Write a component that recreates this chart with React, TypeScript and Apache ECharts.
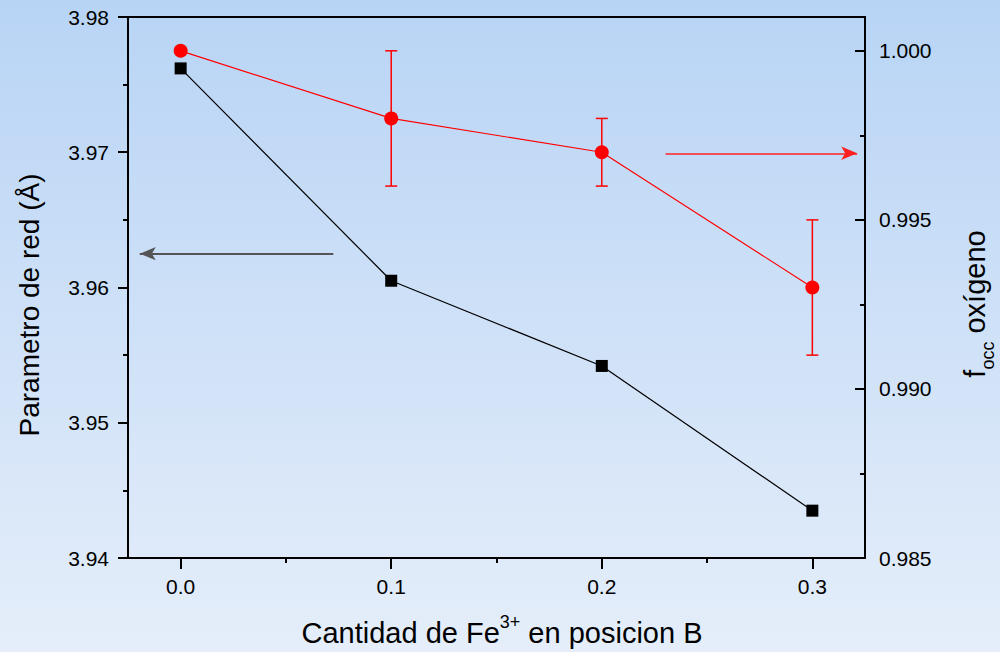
import React, { useEffect, useRef } from "react";
import * as echarts from "echarts";

// ---- data ----
const feContent = [0, 0.1, 0.2, 0.3];
const latticeParam = [3.9762, 3.9605, 3.9542, 3.9435];
const occupancy = [1.0, 0.998, 0.997, 0.993];
const occErrLow = [1.0, 0.996, 0.996, 0.991];
const occErrHigh = [1.0, 1.0, 0.998, 0.995];

const xMajorTicks = [0, 0.1, 0.2, 0.3];
const xMinorTicks = [0.05, 0.15, 0.25];
const rightMajorTicks = [0.985, 0.99, 0.995, 1.0];
const rightMinorTicks = [0.9875, 0.9925, 0.9975];

// arrows pointing to the axes: [xStart, xEnd, y]
const blackArrow = [0.0725, -0.0194, 3.9625];
const redArrow = [0.2303, 0.3213, 0.99697];

const FONT = "'Liberation Sans', Arial, Helvetica, sans-serif";

export default function App() {
  const ref = useRef<HTMLDivElement>(null);

  useEffect(() => {
    if (!ref.current) return;
    const chart = echarts.init(ref.current, null, { renderer: "svg" });

    const lineStyleAxis = { color: "#000", width: 2 };

    const option: any = {
      animation: false,
      backgroundColor: new echarts.graphic.LinearGradient(0, 0, 0, 1, [
        { offset: 0, color: "#b8d4f5" },
        { offset: 1, color: "#e5eefa" },
      ]),
      textStyle: { fontFamily: FONT },
      grid: {
        left: 128,
        right: 135,
        top: 17,
        bottom: 94,
        show: true,
        borderColor: "#000",
        borderWidth: 2,
        backgroundColor: "transparent",
      },
      xAxis: [
        {
          type: "value",
          min: -0.025,
          max: 0.325,
          position: "bottom",
          axisLine: { show: true, onZero: false, lineStyle: lineStyleAxis },
          axisTick: {
            show: true,
            length: 11,
            lineStyle: lineStyleAxis,
            customValues: xMajorTicks,
          },
          axisLabel: {
            customValues: xMajorTicks,
            formatter: (v: number) => v.toFixed(1),
            fontSize: 21,
            color: "#000",
            fontFamily: FONT,
            margin: 18,
          },
          splitLine: { show: false },
        },
        {
          type: "value",
          min: -0.025,
          max: 0.325,
          position: "bottom",
          axisLine: { show: false, onZero: false },
          axisTick: {
            show: true,
            length: 5,
            lineStyle: lineStyleAxis,
            customValues: xMinorTicks,
          },
          axisLabel: { show: false },
          splitLine: { show: false },
        },
      ],
      yAxis: [
        {
          type: "value",
          min: 3.94,
          max: 3.98,
          interval: 0.01,
          position: "left",
          axisLine: { show: true, onZero: false, lineStyle: lineStyleAxis },
          axisTick: { show: true, length: 10, lineStyle: lineStyleAxis },
          minorTick: {
            show: true,
            splitNumber: 2,
            length: 5,
            lineStyle: lineStyleAxis,
          },
          axisLabel: {
            formatter: (v: number) => v.toFixed(2),
            fontSize: 21,
            color: "#000",
            fontFamily: FONT,
            margin: 19,
          },
          splitLine: { show: false },
          minorSplitLine: { show: false },
        },
        {
          type: "value",
          min: 0.985,
          max: 1.001,
          position: "right",
          axisLine: { show: true, onZero: false, lineStyle: lineStyleAxis },
          axisTick: {
            show: true,
            inside: true,
            length: 10,
            lineStyle: lineStyleAxis,
            customValues: rightMajorTicks,
          },
          axisLabel: {
            customValues: rightMajorTicks,
            formatter: (v: number) => v.toFixed(3),
            fontSize: 21,
            color: "#000",
            fontFamily: FONT,
            margin: 14,
          },
          splitLine: { show: false },
        },
        {
          type: "value",
          min: 0.985,
          max: 1.001,
          position: "right",
          axisLine: { show: false, onZero: false },
          axisTick: {
            show: true,
            inside: true,
            length: 5,
            lineStyle: lineStyleAxis,
            customValues: rightMinorTicks,
          },
          axisLabel: { show: false },
          splitLine: { show: false },
        },
      ],
      series: [
        {
          type: "line",
          xAxisIndex: 0,
          yAxisIndex: 0,
          data: feContent.map((x, i) => [x, latticeParam[i]]),
          symbol: "rect",
          symbolSize: 12,
          itemStyle: { color: "#000" },
          lineStyle: { color: "#000", width: 1.2 },
          z: 3,
          markLine: {
            silent: true,
            symbol: ["none", "arrow"],
            symbolSize: [10, 16],
            label: { show: false },
            lineStyle: { color: "#555", width: 2, type: "solid" },
            data: [
              [
                { coord: [blackArrow[0], blackArrow[2]] },
                { coord: [blackArrow[1], blackArrow[2]] },
              ],
            ],
          },
        },
        {
          type: "custom",
          xAxisIndex: 0,
          yAxisIndex: 1,
          z: 2,
          data: feContent
            .map((x, i) => [x, occErrLow[i], occErrHigh[i]])
            .filter((d) => d[1] !== d[2]),
          encode: { x: 0, y: [1, 2] },
          renderItem: (params: any, api: any) => {
            const x = api.value(0);
            const lo = api.coord([x, api.value(1)]);
            const hi = api.coord([x, api.value(2)]);
            const w = 6;
            const st = { stroke: "#ff0000", lineWidth: 1.5 };
            return {
              type: "group",
              children: [
                { type: "line", shape: { x1: lo[0], y1: lo[1], x2: hi[0], y2: hi[1] }, style: st },
                { type: "line", shape: { x1: lo[0] - w, y1: lo[1], x2: lo[0] + w, y2: lo[1] }, style: st },
                { type: "line", shape: { x1: hi[0] - w, y1: hi[1], x2: hi[0] + w, y2: hi[1] }, style: st },
              ],
            };
          },
        },
        {
          type: "line",
          xAxisIndex: 0,
          yAxisIndex: 1,
          data: feContent.map((x, i) => [x, occupancy[i]]),
          symbol: "circle",
          symbolSize: 14,
          itemStyle: { color: "#ff0000" },
          lineStyle: { color: "#ff0000", width: 1.2 },
          z: 4,
          markLine: {
            silent: true,
            symbol: ["none", "arrow"],
            symbolSize: [10, 16],
            label: { show: false },
            lineStyle: { color: "#ff2020", width: 1.5, type: "solid" },
            data: [
              [
                { coord: [redArrow[0], redArrow[2]] },
                { coord: [redArrow[1], redArrow[2]] },
              ],
            ],
          },
        },
      ],
      graphic: [
        {
          type: "text",
          x: 29,
          y: 305,
          rotation: Math.PI / 2,
          style: {
            text: "Parametro de red (Å)",
            font: `28px ${FONT}`,
            fill: "#000",
            align: "center",
            verticalAlign: "middle",
          },
        },
        {
          type: "text",
          x: 975,
          y: 304,
          rotation: Math.PI / 2,
          style: {
            text: "{n|f}{s|occ}{n| oxígeno}",
            fill: "#000",
            align: "center",
            verticalAlign: "middle",
            rich: {
              n: { fontSize: 29, fontFamily: FONT, lineHeight: 32, fill: "#000" },
              s: { fontSize: 18, fontFamily: FONT, lineHeight: 18, verticalAlign: "bottom", padding: [0, 0, -6, 0], fill: "#000" },
            },
          },
        },
        {
          type: "text",
          x: 502,
          y: 633,
          style: {
            text: "{n|Cantidad de Fe}{p|3+}{n| en posicion B}",
            fill: "#000",
            align: "center",
            verticalAlign: "middle",
            rich: {
              n: { fontSize: 29, fontFamily: FONT, lineHeight: 32, fill: "#000" },
              p: { fontSize: 18, fontFamily: FONT, lineHeight: 18, verticalAlign: "top", padding: [-4, 0, 0, 0], fill: "#000" },
            },
          },
        },
      ],
    };

    chart.setOption(option);
    return () => chart.dispose();
  }, []);

  return (
    <div
      ref={ref}
      style={{ position: "fixed", left: 0, top: 0, width: 1000, height: 652 }}
    />
  );
}
